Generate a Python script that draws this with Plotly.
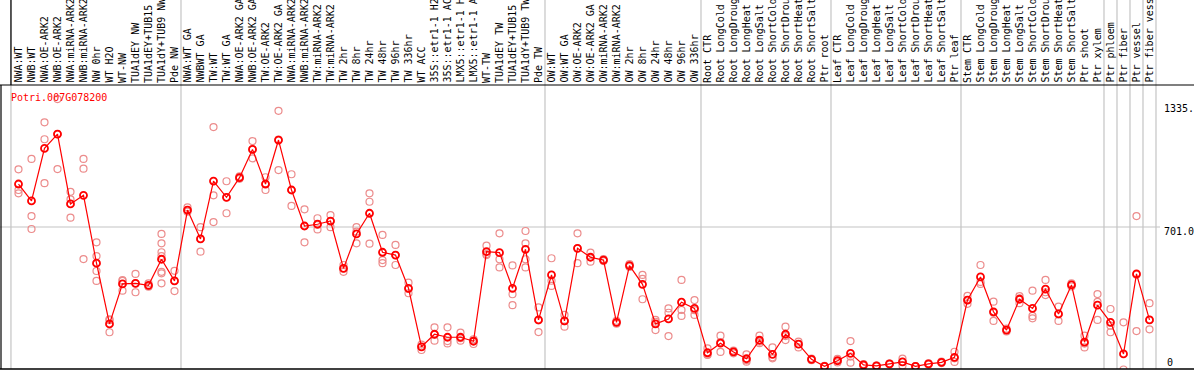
import plotly.graph_objects as go

# ---------------- data ----------------
gene = "Potri.007G078200"

categories = [
    "NWA:WT", "NWB:WT", "NWA:OE-ARK2", "NWB:OE-ARK2", "NWA:miRNA-ARK2", "NWB:miRNA-ARK2",
    "NW 0hr", "WT H2O", "WT-NW", "TUA1dEY NW", "TUA1dEY+TUB15 NW", "TUA1dY+TUB9 NW", "Pde NW",
    "NWA:WT GA", "NWBWT GA", "TW:WT", "TW:WT GA", "NWA:OE-ARK2 GA", "NWB:OE-ARK2 GA",
    "TW:OE-ARK2", "TW:OE-ARK2 GA", "NWA:miRNA-ARK2", "NWB:miRNA-ARK2", "TW:miRNA-ARK2",
    "TW:miRNA-ARK2", "TW 2hr", "TW 8hr", "TW 24hr", "TW 48hr", "TW 96hr", "TW 336hr",
    "WT ACC", "35S::etr1-1 H2O", "35S::etr1-1 ACC", "LMX5::etr1-1 H2O", "LMX5::etr1-1 ACC",
    "WT-TW", "TUA1dEY TW", "TUA1dEY+TUB15 TW", "TUA1dY+TUB9 TW", "Pde TW",
    "OW:WT", "OW:WT GA", "OW:OE-ARK2", "OW:OE-ARK2 GA", "OW:miRNA-ARK2", "OW:miRNA-ARK2",
    "OW 2hr", "OW 8hr", "OW 24hr", "OW 48hr", "OW 96hr", "OW 336hr",
    "Root CTR", "Root LongCold", "Root LongDrought", "Root LongHeat", "Root LongSalt",
    "Root ShortCold", "Root ShortDrought", "Root ShortHeat", "Root ShortSalt", "Ptr root",
    "Leaf CTR", "Leaf LongCold", "Leaf LongDrought", "Leaf LongHeat", "Leaf LongSalt",
    "Leaf ShortCold", "Leaf ShortDrought", "Leaf ShortHeat", "Leaf ShortSalt", "Ptr leaf",
    "Stem CTR", "Stem LongCold", "Stem LongDrought", "Stem LongHeat", "Stem LongSalt",
    "Stem ShortCold", "Stem ShortDrought", "Stem ShortHeat", "Stem ShortSalt", "Ptr shoot",
    "Ptr xylem", "Ptr phloem", "Ptr fiber", "Ptr vessel", "Ptr fiber vessel",
]

means = [
    917, 832, 1096, 1168, 817, 860, 519, 214, 415, 418,
    408, 539, 430, 786, 641, 932, 850, 949, 1091, 917,
    1138, 887, 706, 715, 731, 493, 666, 770, 574, 560,
    393, 99, 162, 147, 147, 127, 577, 572, 393, 589,
    234, 460, 229, 594, 549, 535, 222, 507, 413, 214,
    239, 323, 292, 69, 117, 73, 39, 132, 61, 162,
    112, 36, 1, 29, 66, 8, 3, 13, 23, 1,
    13, 21, 46, 334, 450, 275, 183, 338, 292, 389,
    264, 410, 122, 308, 222, 63, 465, 234,
]

replicates = [
    [991, 887, 870], [1043, 756, 691], [1227, 1142, 921], [1344, 1168, 992],
    [878, 840, 748], [1043, 994, 540], [624, 555, 480, 430], [237, 233, 172],
    [430, 434, 381], [465, 418, 373], [418, 405, 401], [666, 619, 574, 555, 476, 468, 418],
    [481, 430, 379], [800, 786, 778], [700, 641, 577], [1203, 860, 726],
    [931, 850, 770], [955, 949, 943], [1133, 1091, 1046], [951, 917, 887],
    [1285, 1140, 987], [966, 887, 807], [790, 706, 624], [745, 712, 689],
    [761, 731, 700], [510, 493, 476], [700, 678, 619], [870, 828, 617],
    [661, 535, 519], [611, 560, 510], [421, 390, 368], [110, 99, 83],
    [197, 160, 130], [197, 128, 116], [170, 142, 130], [137, 130, 113],
    [607, 565, 560], [669, 539, 498], [508, 363, 308], [681, 619, 539, 498],
    [297, 232, 173], [544, 431, 405], [259, 228, 200], [669, 594, 519],
    [572, 549, 527], [540, 535, 530], [230, 222, 215], [515, 507, 500],
    [460, 440, 338], [234, 225, 183], [292, 270, 153], [435, 284, 254],
    [334, 283, 259], [91, 60, 58], [155, 123, 73], [80, 73, 66],
    [61, 32, 24], [155, 125, 117], [96, 46, 41], [200, 153, 133],
    [125, 112, 96], [40, 36, 32], [3, 1, 0], [38, 29, 20],
    [128, 50, 19], [12, 8, 4], [5, 3, 1], [15, 13, 11],
    [40, 23, 5], [2, 1, 0], [16, 12, 10], [25, 21, 17],
    [74, 41, 23], [355, 334, 315], [510, 425, 415], [326, 270, 229],
    [190, 183, 176], [354, 342, 318], [381, 254, 242], [435, 373, 359],
    [301, 262, 229], [418, 410, 402], [155, 115, 96], [364, 325, 234],
    [289, 205, 172], [222, -15], [756, 461, 178], [318, 234, 187],
]

# group boundaries (between sample groups), in category index units
group_bounds = [-0.58, 12.5, 40.5, 52.5, 62.5, 72.5, 83.5, 84.5, 85.5, 86.5, 87.5]

y_tick_text = ["1335.", "701.0", "0"]
grid_value = 701

# ---------------- layout geometry ----------------
W, H = 1194, 370
L, R, T, B = 1, 0, 85, 1
PW, PH = W - L - R, H - T - B
X0_PX, STEP = 18.5, 13.0           # pixel centre of first column, column pitch
Y0_PX, SCALE = 366.5, 0.199        # pixel of value 0, px per unit

def px_to_paper_x(px):
    return (px - L) / PW

def px_to_paper_y(py):
    return (H - B - py) / PH

x_range = [(L - X0_PX) / STEP, (W - R - X0_PX) / STEP]
y_range = [(Y0_PX - (H - B)) / SCALE, (Y0_PX - T) / SCALE]

MONO = "DejaVu Sans Mono"
idx = list(range(len(categories)))

fig = go.Figure()

rx, ry = [], []
for i, reps in enumerate(replicates):
    for v in reps:
        rx.append(i)
        ry.append(v)

fig.add_trace(go.Scatter(
    x=rx, y=ry, mode="markers",
    marker=dict(symbol="circle-open", size=7, color="rgb(236,140,140)", line=dict(width=1.2)),
    hoverinfo="skip",
))
fig.add_trace(go.Scatter(
    x=idx, y=means, mode="lines+markers",
    line=dict(color="#ff0000", width=1.2),
    marker=dict(symbol="circle-open", size=7, color="#ff0000", line=dict(width=1.8)),
))

shapes = []
top_paper = px_to_paper_y(0)
for b in group_bounds:
    shapes.append(dict(type="line", xref="x", yref="paper", x0=b, x1=b, y0=0, y1=top_paper,
                       line=dict(color="#c4c4c4", width=1.2), layer="below"))
# grid line at 701
shapes.append(dict(type="line", xref="paper", yref="y", x0=-0.001, x1=px_to_paper_x(1160),
                   y0=grid_value, y1=grid_value, line=dict(color="#c4c4c4", width=1.2), layer="below"))
# frame lines
shapes.append(dict(type="line", xref="paper", yref="paper", x0=-0.001, x1=1.0, y0=1, y1=1,
                   line=dict(color="black", width=1.2)))
shapes.append(dict(type="line", xref="paper", yref="paper", x0=-0.001, x1=1.0, y0=0, y1=0,
                   line=dict(color="black", width=1.5)))
shapes.append(dict(type="line", xref="paper", yref="paper", x0=0, x1=0, y0=0, y1=1,
                   line=dict(color="black", width=1.2)))
shapes.append(dict(type="line", xref="x", yref="paper", x0=group_bounds[0], x1=group_bounds[0],
                   y0=1, y1=top_paper, line=dict(color="black", width=1.2)))

annotations = [
    dict(text=gene, xref="paper", yref="paper", x=px_to_paper_x(9), y=px_to_paper_y(97),
         xanchor="left", yanchor="middle", showarrow=False,
         font=dict(family=MONO, size=10, color="#ff0000")),
]
# column labels above the plot (rotated, reading upwards, clipped by page top)
for i, lab in zip(idx, categories):
    annotations.append(dict(text=lab, xref="x", yref="paper", x=i, y=px_to_paper_y(84),
                            xanchor="center", yanchor="bottom", textangle=-90,
                            showarrow=False, borderpad=0,
                            font=dict(family=MONO, size=10, color="black")))
label_px = [108, 231, 362]
label_x = [1162, 1162, 1165]
for t, py, pxx in zip(y_tick_text, label_px, label_x):
    annotations.append(dict(text=t, xref="paper", yref="paper", x=px_to_paper_x(pxx),
                            y=px_to_paper_y(py), xanchor="left", yanchor="middle",
                            showarrow=False, font=dict(family=MONO, size=10, color="black")))

fig.update_layout(
    width=W, height=H,
    margin=dict(l=L, r=R, t=T, b=B, pad=0),
    paper_bgcolor="white", plot_bgcolor="white",
    showlegend=False,
    template="none",
    shapes=shapes,
    annotations=annotations,
    xaxis=dict(
        range=x_range, showticklabels=False, ticks="", showgrid=False, zeroline=False,
        showline=False, automargin=False, fixedrange=True,
    ),
    yaxis=dict(range=y_range, visible=False, showgrid=False, zeroline=False,
               automargin=False, fixedrange=True),
)

fig.write_html("out.html", config={"displayModeBar": False},
               post_script="document.body.style.margin='0';")
